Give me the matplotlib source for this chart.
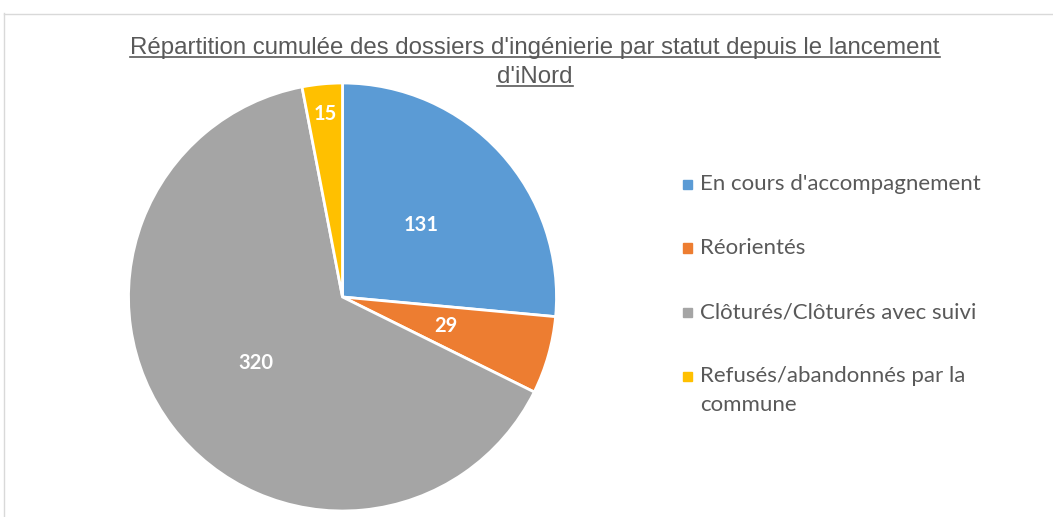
import matplotlib
matplotlib.use("Agg")
import matplotlib.pyplot as plt
from matplotlib.patches import Rectangle
from matplotlib.lines import Line2D
import numpy as np

categories = ["En cours d'accompagnement", "Réorientés",
              "Clôturés/Clôturés avec suivi", "Refusés/abandonnés par la\ncommune"]
values = [131, 29, 320, 15]
colors = ["#5B9BD5", "#ED7D31", "#A5A5A5", "#FFC000"]
title_lines = ["Répartition cumulée des dossiers d'ingénierie par statut depuis le lancement",
               "d'iNord"]
label_dist = [0.50, 0.50, 0.51, 0.86]

W, H = 1053, 517
fig = plt.figure(figsize=(W / 100, H / 100), dpi=100)
fig.patch.set_facecolor("white")

def fx(px):
    return px / W

def fy(py):
    return 1 - py / H

# outer frame (light gray)
fig.add_artist(Line2D([fx(3.5), fx(3.5)], [fy(13), 0], color="#D9D9D9", lw=1.0))
fig.add_artist(Line2D([fx(3.5), 1], [fy(13.5), fy(13.5)], color="#D9D9D9", lw=1.0))

cx, cy, r = 342.5, 297, 214
ax = fig.add_axes([fx(cx - r), fy(cy + r), 2 * r / W, 2 * r / H])
wedges, _ = ax.pie(values, colors=colors, startangle=90, counterclock=False,
                   wedgeprops=dict(edgecolor="white", linewidth=2.0))
ax.set_xlim(-1, 1)
ax.set_ylim(-1, 1)
ax.set_aspect("equal")

for w, v, d in zip(wedges, values, label_dist):
    ang = np.deg2rad((w.theta1 + w.theta2) / 2)
    ax.text(d * np.cos(ang), d * np.sin(ang), str(v), ha="center", va="center",
            color="white", fontsize=14.5, fontweight="bold", family="Lato")

# title with underline
title_y = [48, 77]
title_texts = []
for line, y in zip(title_lines, title_y):
    t = fig.text(fx(535), fy(y), line, ha="center", va="center", fontsize=17.3,
                 color="#595959", family="Liberation Sans")
    title_texts.append(t)

# legend
leg_rows = [184, 248, 312.5, 376]
for lab, col, y in zip(categories, colors, leg_rows):
    fig.add_artist(Rectangle((fx(683), fy(y + 4.5)), 9 / W, 9 / H, color=col,
                             transform=fig.transFigure))
    if "\n" in lab:
        for i, part in enumerate(lab.split("\n")):
            fig.text(fx(700), fy(y + 29 * i), part, ha="left", va="center",
                     fontsize=16, color="#595959", family="Lato")
    else:
        fig.text(fx(700), fy(y), lab, ha="left", va="center",
                 fontsize=16, color="#595959", family="Lato")

fig.canvas.draw()
renderer = fig.canvas.get_renderer()
for t in title_texts:
    bb = t.get_window_extent(renderer)
    yline = bb.y0 + 2.5
    fig.add_artist(Line2D([bb.x0 / W, bb.x1 / W], [yline / H, yline / H],
                          color="#595959", lw=1.2))

fig.savefig("out.png", dpi=100, facecolor="white")
